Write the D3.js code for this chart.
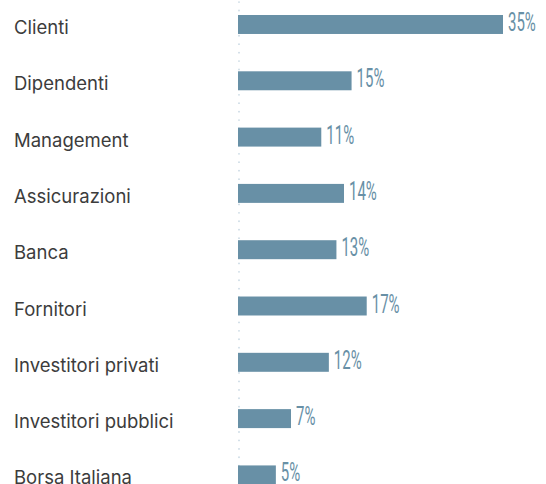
<!DOCTYPE html>
<html><head><meta charset="utf-8">
<script src="https://cdn.jsdelivr.net/npm/d3@7"></script>
<style>
html,body{margin:0;padding:0;background:#fff;}
svg{display:block;}
</style></head>
<body>
<script>
const categories = ["Clienti","Dipendenti","Management","Assicurazioni","Banca","Fornitori","Investitori privati","Investitori pubblici","Borsa Italiana"];
const values = [35,15,11,14,13,17,12,7,5];
const valueLabels = ["35%","15%","11%","14%","13%","17%","12%","7%","5%"];

const W = 546, H = 484;
const svg = d3.select("body").append("svg").attr("width", W).attr("height", H);

const x0 = 238;
const x = d3.scaleLinear().domain([0,35]).range([x0, 503]);
const y = d3.scaleBand().domain(categories).range([15, 484.4]).paddingInner(0.663).paddingOuter(0);

// dotted baseline
svg.append("line").attr("x1", x0+1).attr("x2", x0+1).attr("y1", 2).attr("y2", H)
  .attr("stroke", "#c9d8e3").attr("stroke-width", 1.7)
  .attr("stroke-dasharray", "0.1 8.33").attr("stroke-linecap","round");

svg.selectAll("rect.bar").data(values).enter().append("rect")
  .attr("class","bar")
  .attr("x", x(0))
  .attr("y", (d,i) => y(categories[i]))
  .attr("width", d => x(d) - x(0))
  .attr("height", y.bandwidth())
  .attr("fill", "#6890a6");

svg.selectAll("text.cat").data(categories).enter().append("text")
  .attr("class","cat")
  .attr("x", 14)
  .attr("y", d => y(d) + y.bandwidth()/2 + 9.5)
  .attr("font-family","Inter, 'Noto Sans', sans-serif")
  .attr("font-size", 18.5)
  .attr("fill", "#3c3c3c")
  .text(d => d);

svg.selectAll("text.val").data(values).enter().append("text")
  .attr("class","val")
  .attr("transform", (d,i) => `translate(${x(d)+5},${y(categories[i]) + y.bandwidth()/2 + 6.5}) scale(0.6,1)`)
  .attr("font-family","Roboto, 'Liberation Sans', sans-serif")
  .attr("font-size", 25)
  .attr("font-weight", 400)
  .attr("fill", "#6890a6")
  .text((d,i) => valueLabels[i]);
</script>
</body></html>
